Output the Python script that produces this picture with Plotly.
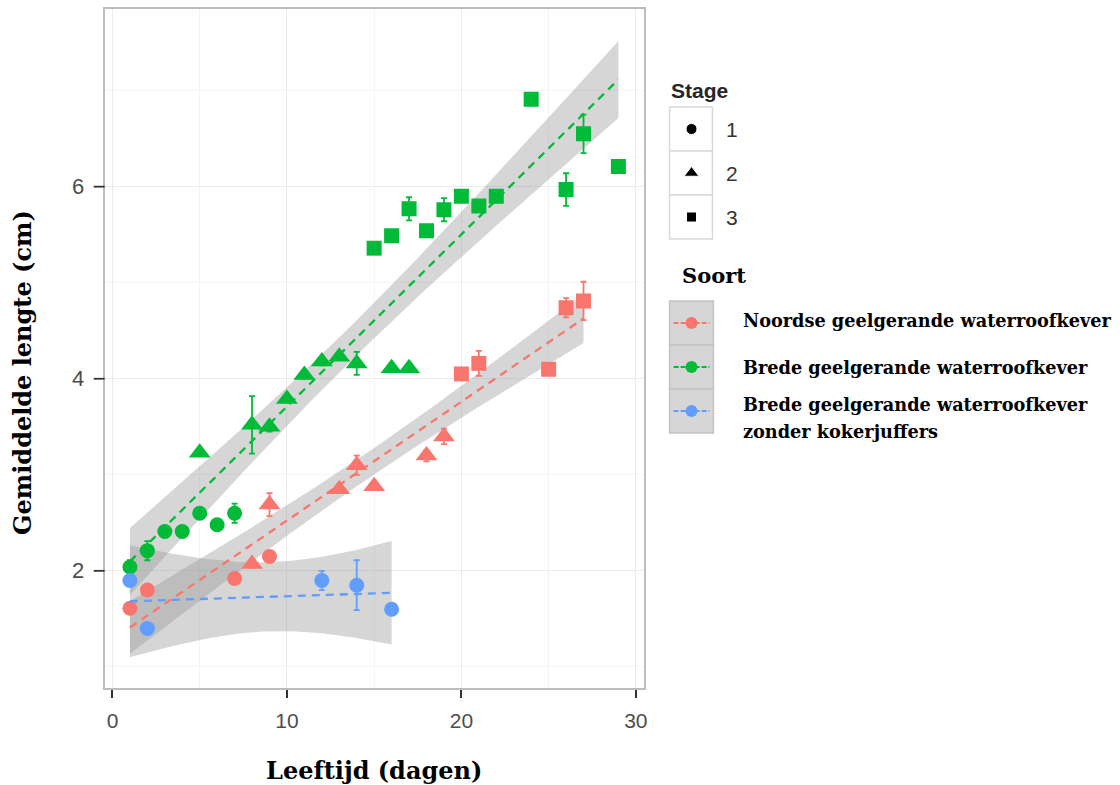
import math
import numpy as np
import plotly.graph_objects as go

# ---------------- data ----------------
species_names = [
    "Noordse geelgerande waterroofkever",
    "Brede geelgerande waterroofkever",
    "Brede geelgerande waterroofkever zonder kokerjuffers",
]
species_colors = ["#F8766D", "#00BA38", "#619CFF"]

# Noordse (red)
red_x = [1, 2, 7, 9, 8, 9, 13, 14, 15, 18, 19, 20, 21, 25, 26, 27]
red_y = [1.61, 1.80, 1.92, 2.15, 2.07, 2.69, 2.85, 3.10, 2.88, 3.20, 3.40, 4.05, 4.16, 4.10, 4.74, 4.81]
red_stage = [1, 1, 1, 1, 2, 2, 2, 2, 2, 2, 2, 3, 3, 3, 3, 3]
red_err = [0.0, 0.05, 0.0, 0.03, 0.04, 0.12, 0.03, 0.10, 0.03, 0.06, 0.08, 0.0, 0.13, 0.0, 0.10, 0.20]

# Brede (green)
green_x = [1, 2, 3, 4, 5, 6, 7,
           5, 8, 9, 10, 11, 12, 13, 14, 16, 17,
           15, 16, 17, 18, 19, 20, 21, 22, 24, 26, 27, 29]
green_y = [2.04, 2.21, 2.41, 2.41, 2.60, 2.48, 2.60,
           3.23, 3.52, 3.50, 3.79, 4.04, 4.18, 4.23, 4.16, 4.11, 4.11,
           5.36, 5.49, 5.77, 5.54, 5.76, 5.90, 5.80, 5.90, 6.91, 5.97, 6.55, 6.21]
green_stage = [1] * 7 + [2] * 10 + [3] * 12
green_err = [0.07, 0.10, 0.02, 0.02, 0.0, 0.05, 0.10,
             0.0, 0.30, 0.05, 0.03, 0.04, 0.04, 0.0, 0.12, 0.0, 0.0,
             0.0, 0.04, 0.12, 0.0, 0.12, 0.0, 0.03, 0.0, 0.0, 0.17, 0.20, 0.0]

# Brede zonder kokerjuffers (blue)
blue_x = [1, 2, 12, 14, 16]
blue_y = [1.90, 1.40, 1.90, 1.85, 1.60]
blue_stage = [1, 1, 1, 1, 1]
blue_err = [0.0, 0.0, 0.10, 0.26, 0.0]

stage_labels = ["1", "2", "3"]
stage_symbols = {1: "circle", 2: "triangle-up", 3: "square"}
stage_sizes = {1: 15, 2: 19, 3: 15}

x_ticks = [0, 10, 20, 30]
y_ticks = [2, 4, 6]

all_x = [red_x, green_x, blue_x]
all_y = [red_y, green_y, blue_y]
all_stage = [red_stage, green_stage, blue_stage]
all_err = [red_err, green_err, blue_err]


# ---------------- helpers ----------------
def t_quantile_975(df):
    """Student t 0.975 quantile by numeric integration of the pdf."""
    c = math.gamma((df + 1) / 2) / (math.sqrt(df * math.pi) * math.gamma(df / 2))
    grid = np.linspace(0, 20, 200001)
    pdf = c * (1 + grid ** 2 / df) ** (-(df + 1) / 2)
    cdf = np.concatenate([[0], np.cumsum((pdf[1:] + pdf[:-1]) / 2 * np.diff(grid))])
    return float(np.interp(0.475, cdf, grid))


def lm_band(x, y, npts=80):
    x = np.asarray(x, float)
    y = np.asarray(y, float)
    n = len(x)
    b, a = np.polyfit(x, y, 1)
    resid = y - (a + b * x)
    s = math.sqrt(np.sum(resid ** 2) / (n - 2))
    xbar = x.mean()
    sxx = np.sum((x - xbar) ** 2)
    xs = np.linspace(x.min(), x.max(), npts)
    pred = a + b * xs
    se = s * np.sqrt(1 / n + (xs - xbar) ** 2 / sxx)
    t = t_quantile_975(n - 2)
    return xs, pred, pred - t * se, pred + t * se


fig = go.Figure()

# ---------------- confidence bands ----------------
for i in range(3):
    xs, pred, lo, hi = lm_band(all_x[i], all_y[i])
    fig.add_trace(go.Scatter(
        x=list(xs) + list(xs[::-1]), y=list(hi) + list(lo[::-1]),
        fill="toself", fillcolor="rgba(153,153,153,0.4)",
        line=dict(width=0), mode="lines", hoverinfo="skip", showlegend=False,
    ))

# ---------------- points with error bars ----------------
for i in range(3):
    fig.add_trace(go.Scatter(
        x=all_x[i], y=all_y[i], mode="markers",
        marker=dict(color=species_colors[i], opacity=1,
                    symbol=[stage_symbols[s] for s in all_stage[i]],
                    size=[stage_sizes[s] for s in all_stage[i]],
                    line=dict(width=0)),
        error_y=dict(type="data", array=all_err[i], visible=True,
                     color=species_colors[i], thickness=1.8, width=3),
        showlegend=False,
    ))

# ---------------- fitted dashed lines ----------------
for i in range(3):
    xs, pred, lo, hi = lm_band(all_x[i], all_y[i])
    fig.add_trace(go.Scatter(
        x=xs, y=pred, mode="lines",
        line=dict(color=species_colors[i], width=2.3, dash="8px,6px"),
        hoverinfo="skip", showlegend=False,
    ))

# ---------------- hand-built legend (pixel axes x2/y2) ----------------
sans = "Liberation Sans, Arial, sans-serif"
serif = "DejaVu Serif, serif"

annotations = []
shapes = []

# y tick labels (placed left of the tick marks)
for v in y_ticks:
    annotations.append(dict(x=86, y=v, xref="x2", yref="y", text=str(v),
                            showarrow=False, xanchor="right", yanchor="middle",
                            font=dict(family=sans, size=22, color="#4d4d4d")))

# y tick marks
for v in y_ticks:
    shapes.append(dict(type="line", xref="x2", yref="y", x0=94, x1=105, y0=v, y1=v,
                       line=dict(color="#333333", width=1.8)))

# Stage title
annotations.append(dict(x=671, y=90, xref="x2", yref="y2", text="<b>Stage</b>",
                        showarrow=False, xanchor="left", yanchor="middle",
                        font=dict(family=sans, size=21, color="#262626")))
stage_box_tops = [107, 151, 195]
for k, top in enumerate(stage_box_tops):
    shapes.append(dict(type="rect", xref="x2", yref="y2", x0=672, x1=715, y0=top, y1=top + 44,
                       line=dict(color="#d9d9d9", width=1.5), fillcolor="white", layer="below"))
    annotations.append(dict(x=727, y=top + 22, xref="x2", yref="y2", text=stage_labels[k],
                            showarrow=False, xanchor="left", yanchor="middle",
                            font=dict(family=sans, size=21, color="#333333")))
fig.add_trace(go.Scatter(
    x=[694, 694, 694], y=[t + 22 for t in stage_box_tops], xaxis="x2", yaxis="y2",
    mode="markers",
    marker=dict(color="#000000", symbol=["circle", "triangle-up", "square"], size=[11, 13, 10],
                opacity=1),
    hoverinfo="skip", showlegend=False,
))

# Soort title
annotations.append(dict(x=682, y=275, xref="x2", yref="y2", text="<b>Soort</b>",
                        showarrow=False, xanchor="left", yanchor="middle",
                        font=dict(family=serif, size=21, color="black")))
soort_box_tops = [301, 345, 389]
for k, top in enumerate(soort_box_tops):
    shapes.append(dict(type="rect", xref="x2", yref="y2", x0=672, x1=716, y0=top, y1=top + 44,
                       line=dict(color="#c2c2c2", width=1.5), fillcolor="#d6d6d6", layer="below"))
    cy = top + 22
    fig.add_trace(go.Scatter(
        x=[676, 712], y=[cy, cy], xaxis="x2", yaxis="y2", mode="lines",
        line=dict(color=species_colors[k], width=2, dash="5px,2px"),
        hoverinfo="skip", showlegend=False,
    ))
    fig.add_trace(go.Scatter(
        x=[694], y=[cy], xaxis="x2", yaxis="y2", mode="markers",
        marker=dict(color=species_colors[k], size=12, opacity=1),
        hoverinfo="skip", showlegend=False,
    ))

soort_label_lines = ["Noordse geelgerande waterroofkever",
                     "Brede geelgerande waterroofkever",
                     "Brede geelgerande waterroofkever",
                     "zonder kokerjuffers"]
soort_label_y = [320, 367, 404, 431]
for k in range(4):
    annotations.append(dict(x=744, y=soort_label_y[k], xref="x2", yref="y2",
                            text="<b>" + soort_label_lines[k] + "</b>",
                            showarrow=False, xanchor="left", yanchor="middle", align="left",
                            font=dict(family=serif, size=17.7, color="black")))

# axis titles
annotations.append(dict(x=375, y=770, xref="x2", yref="y2", text="<b>Leeftijd (dagen)</b>",
                        showarrow=False, xanchor="center", yanchor="middle",
                        font=dict(family=serif, size=24, color="black")))
annotations.append(dict(x=22, y=372, xref="x2", yref="y2", text="<b>Gemiddelde lengte (cm)</b>",
                        showarrow=False, xanchor="center", yanchor="middle", textangle=-90,
                        font=dict(family=serif, size=24, color="black")))

W, H = 1120, 785
fig.update_layout(
    width=W, height=H,
    margin=dict(l=0, r=0, t=0, b=0),
    paper_bgcolor="white", plot_bgcolor="rgba(0,0,0,0)",
    showlegend=False,
    xaxis=dict(domain=[105 / W, 646 / W], range=[-0.45, 30.45],
               tickvals=x_ticks, ticktext=[str(v) for v in x_ticks],
               ticks="outside", ticklen=8, tickwidth=1.8, tickcolor="#333333",
               tickfont=dict(family=sans, size=21, color="#4d4d4d"), ticklabelstandoff=5,
               showline=True, mirror=True, linecolor="#bdbdbd", linewidth=1.5,
               showgrid=True, gridcolor="#ebebeb", gridwidth=1,
               minor=dict(tickvals=[5, 15, 25], showgrid=True, gridcolor="#f4f4f4", gridwidth=1, ticks=""),
               zeroline=False, fixedrange=True, anchor="y"),
    yaxis=dict(domain=[1 - 688 / H, 1 - 9 / H], range=[0.78, 7.85],
               tickvals=y_ticks, showticklabels=False, ticks="",
               showline=True, mirror=True, linecolor="#bdbdbd", linewidth=1.5,
               showgrid=True, gridcolor="#ebebeb", gridwidth=1,
               minor=dict(tickvals=[1, 3, 5, 7], showgrid=True, gridcolor="#f4f4f4", gridwidth=1, ticks=""),
               zeroline=False, fixedrange=True, anchor="x"),
    xaxis2=dict(domain=[0, 1], range=[0, W], visible=False, fixedrange=True, anchor="y2"),
    yaxis2=dict(domain=[0, 1], range=[H, 0], visible=False, fixedrange=True, anchor="x2"),
    annotations=annotations,
    shapes=shapes,
)

fig.write_html("out.html")
